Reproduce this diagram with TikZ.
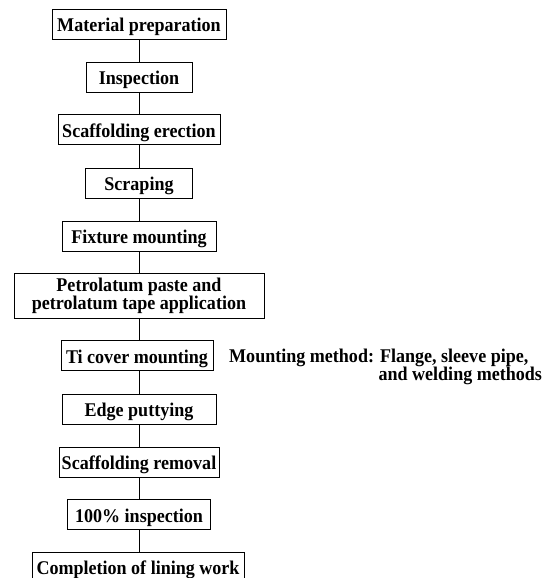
\documentclass[tikz,border=0pt]{standalone}
\usepackage{fontspec}
\setmainfont{Liberation Serif}[FakeStretch=0.93]
\begin{document}
\begin{tikzpicture}[x=1pt,y=-1pt,
  txt/.style={font=\bfseries\fontsize{19.4}{18}\selectfont},
  stepbox/.style={txt, draw, line width=0.9pt, inner sep=0pt, minimum height=30pt,
    align=center, text height=15pt, text depth=0pt},
  twobox/.style={txt, draw, line width=0.9pt, inner sep=0pt, align=center},
  note/.style={txt, inner sep=0pt, align=left},
  link/.style={line width=0.9pt}]
\useasboundingbox (0,0) rectangle (549,578);
\clip (0,0) rectangle (549,578);
\node[stepbox, minimum width=174pt] (s1) at (139,24.3) {Material preparation};
\node[stepbox, minimum width=106pt] (s2) at (139,77) {Inspection};
\node[stepbox, minimum width=162pt] (s3) at (139,129.5) {Scaffolding erection};
\node[stepbox, minimum width=107pt] (s4) at (139,183) {Scraping};
\node[stepbox, minimum width=154pt] (s5) at (139,236) {Fixture mounting};
\node[twobox, minimum width=250pt, minimum height=45pt] (s6) at (139,295.5) {Petrolatum paste and\\petrolatum tape application};
\node[stepbox, minimum width=152pt] (s7) at (137,355.5) {Ti cover mounting};
\node[stepbox, minimum width=154pt] (s8) at (139,409) {Edge puttying};
\node[stepbox, minimum width=160pt] (s9) at (139,462) {Scaffolding removal};
\node[stepbox, minimum width=143pt] (s10) at (139,514.5) {100\% inspection};
\node[stepbox, minimum width=212pt] (s11) at (138,567) {Completion of lining work};
\node[note, anchor=base west] (n1) at (229,380) {Mounting method: Flange, sleeve pipe,\\\hphantom{Mounting method:}\ and welding methods};
\foreach \a/\b in {s1/s2,s2/s3,s3/s4,s4/s5,s5/s6,s6/s7,s7/s8,s8/s9,s9/s10,s10/s11}
  \draw[link] (\a.south -| 139,0) -- (\b.north -| 139,0);
\end{tikzpicture}
\end{document}
